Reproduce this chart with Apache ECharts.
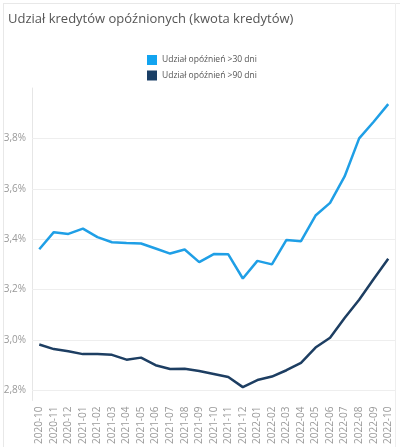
<!DOCTYPE html>
<html>
<head>
<meta charset="utf-8">
<script src="https://cdn.jsdelivr.net/npm/echarts@6/dist/echarts.min.js"></script>
<style>
html,body{margin:0;padding:0;background:#fff;}
#c{width:400px;height:447px;}
</style>
</head>
<body>
<div id="c"></div>
<script>
const categories = ['2020-10','2020-11','2020-12','2021-01','2021-02','2021-03','2021-04','2021-05','2021-06','2021-07','2021-08','2021-09','2021-10','2021-11','2021-12','2022-01','2022-02','2022-03','2022-04','2022-05','2022-06','2022-07','2022-08','2022-09','2022-10'];
const over30 = [3.360,3.428,3.421,3.442,3.408,3.388,3.385,3.383,3.363,3.343,3.359,3.309,3.341,3.340,3.244,3.314,3.300,3.397,3.392,3.494,3.544,3.649,3.800,3.866,3.936];
const over90 = [2.982,2.964,2.955,2.944,2.944,2.941,2.922,2.930,2.900,2.885,2.886,2.877,2.865,2.853,2.813,2.841,2.855,2.880,2.909,2.970,3.009,3.087,3.160,3.242,3.322];
const yTicks = [2.8,3.0,3.2,3.4,3.6,3.8];
const seriesNames = ['Udział opóźnień >30 dni','Udział opóźnień >90 dni'];

const chart = echarts.init(document.getElementById('c'), null, {renderer:'canvas'});
const fam = '"Open Sans", "Noto Sans", sans-serif';
chart.setOption({
  animation:false,
  textStyle:{fontFamily:fam},
  title:{text:'Udział kredytów opóźnionych (kwota kredytów)', left:3, top:8,
    textStyle:{fontSize:13, fontWeight:'normal', color:'#555', fontFamily:fam}},
  legend:{orient:'vertical', left:147, top:55, padding:0, itemWidth:10, itemHeight:10, itemGap:5.5,
    icon:'rect', textStyle:{fontSize:8.5, color:'#555', fontFamily:fam},
    data:seriesNames},
  graphic:[
    {type:'line', shape:{x1:3,y1:3.5,x2:400,y2:3.5}, style:{stroke:'#e8e8e8', lineWidth:1}, silent:true},
    {type:'line', shape:{x1:3.5,y1:3,x2:3.5,y2:447}, style:{stroke:'#e8e8e8', lineWidth:1}, silent:true},
    {type:'line', shape:{x1:395.5,y1:3,x2:395.5,y2:447}, style:{stroke:'#eeeeee', lineWidth:1}, silent:true}
  ],
  grid:{left:32, right:4.5, top:88, bottom:40},
  xAxis:{type:'category', data:categories, boundaryGap:true,
    axisLine:{show:false}, axisTick:{show:false},
    axisLabel:{rotate:90, interval:0, fontSize:10, color:'#999', margin:6}},
  yAxis:{type:'value', min:2.76, max:4.0, interval:0.04,
    axisLine:{show:true, lineStyle:{color:'#e6e6e6'}}, axisTick:{show:false},
    splitLine:{show:false},
    axisLabel:{fontSize:10, color:'#999', margin:6,
      formatter:function(v){
        for (const t of yTicks){ if (Math.abs(v-t)<1e-6) return t.toFixed(1).replace('.',',')+'%'; }
        return '';
      }}},
  series:[
    {name:seriesNames[0], type:'line', data:over30, symbol:'none', color:'#12a4f0',
     lineStyle:{width:2.5, color:'#1f9fe6'},
     markLine:{silent:true, symbol:'none', label:{show:false}, z:1,
       lineStyle:{color:'#eeeeee', width:1, type:'solid'},
       data:yTicks.map(t=>({yAxis:t}))}, z:3},
    {name:seriesNames[1], type:'line', data:over90, symbol:'none', color:'#1a3f66',
     lineStyle:{width:2.5, color:'#1d3e62'}, z:3}
  ]
});
</script>
</body>
</html>
